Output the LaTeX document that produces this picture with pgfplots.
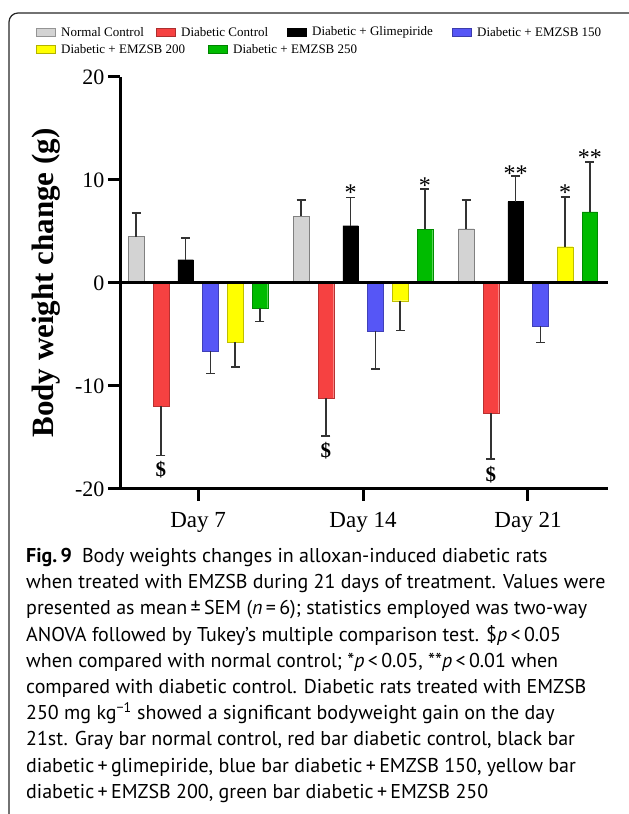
\documentclass[border=0pt]{standalone}
\usepackage{pgfplots}
\pgfplotsset{compat=1.18}
\usepackage{fontspec}
\setmainfont{Liberation Serif}
\newfontfamily\capfont{PT Sans}
\definecolor{cgray}{HTML}{D3D3D3}
\definecolor{cred}{HTML}{F64141}
\definecolor{cblue}{HTML}{5656F6}
\definecolor{cyellow}{HTML}{FFFF00}
\definecolor{cgreen}{HTML}{00BB00}
\definecolor{errc}{HTML}{333333}
\newcommand{\legitem}[4]{%
  \filldraw[fill=#3, draw=#3!70!black, line width=0.5pt] (#1,#2-4) rectangle (#1+19,#2+4);
  \node[anchor=west, inner sep=0pt, font=\fontsize{13}{15}\selectfont] at (#1+25,#2) {#4};
}
\begin{document}
\begin{tikzpicture}[x=1pt,y=1pt]
\path[use as bounding box] (0,0) rectangle (629,814);
\draw[line width=1.2pt, rounded corners=9pt, black!85] (9,-20) -- (9,801) -- (660,801);
% legend
\legitem{36}{782}{cgray}{Normal Control}
\legitem{156}{782}{cred}{Diabetic Control}
\legitem{287}{782}{black}{Diabetic + Glimepiride}
\legitem{452}{782}{cblue}{Diabetic + EMZSB 150}
\legitem{36}{765}{cyellow}{Diabetic + EMZSB 200}
\legitem{208}{765}{cgreen}{Diabetic + EMZSB 250}
\begin{axis}[
  at={(120pt,325pt)}, anchor=south west, scale only axis,
  width=488pt, height=412pt,
  xmin=0.527, xmax=3.485, ymin=-20, ymax=20,
  axis x line=bottom, axis y line=left,
  axis line style={-, line width=3pt, black},
  xtick={1,2,3}, xticklabels={Day 7,Day 14,Day 21},
  ytick={-20,-10,0,10,20}, yticklabels={-20,-10,0,10,20},
  tick align=outside, major tick length=12pt,
  tick style={line width=3pt, black},
  xticklabel style={font=\fontsize{23}{25}\selectfont, yshift=-8pt},
  yticklabel style={font=\fontsize{22}{24}\selectfont},
  every axis y label/.style={at={(axis description cs:-0.1516,0.5)}, rotate=90, anchor=center},
  ylabel={\fontsize{31}{33}\selectfont\bfseries Body weight change (g)},
  clip=false,
]
\addplot[ybar, bar width=0.095, bar shift=0pt, fill=cgray, draw=gray] coordinates {(0.625,4.5) (1.625,6.47) (2.625,5.27)};
\addplot[ybar, bar width=0.095, bar shift=0pt, fill=cred, draw=cred!75!black] coordinates {(0.775,-11.94) (1.775,-11.2) (2.775,-12.65)};
\addplot[ybar, bar width=0.095, bar shift=0pt, fill=black, draw=black] coordinates {(0.925,2.26) (1.925,5.56) (2.925,7.9)};
\addplot[ybar, bar width=0.095, bar shift=0pt, fill=cblue, draw=cblue!75!black] coordinates {(1.075,-6.6) (2.075,-4.66) (3.075,-4.2)};
\addplot[ybar, bar width=0.095, bar shift=0pt, fill=cyellow, draw=cyellow!75!black] coordinates {(1.225,-5.76) (2.225,-1.72) (3.225,3.52)};
\addplot[ybar, bar width=0.095, bar shift=0pt, fill=cgreen, draw=cgreen!75!black] coordinates {(1.375,-2.46) (2.375,5.24) (3.375,6.9)};
% error bars (one-sided)
\addplot[draw=none, mark=none,
  error bars/.cd, y dir=plus, y explicit,
  error bar style={draw=errc, line width=1.4pt},
  error mark=|, error mark options={draw=errc, line width=1.4pt, mark size=4.5pt}]
  table[x=x, y=y, y error=e] {
x y e
0.625 4.5 2.3
1.625 6.47 1.6
2.625 5.27 2.8
0.925 2.26 2.1
1.925 5.56 2.72
2.925 7.9 2.5
3.225 3.52 4.83
2.375 5.24 3.9
3.375 6.9 4.85
};
\addplot[draw=none, mark=none,
  error bars/.cd, y dir=minus, y explicit,
  error bar style={draw=errc, line width=1.4pt},
  error mark=|, error mark options={draw=errc, line width=1.4pt, mark size=4.5pt}]
  table[x=x, y=y, y error=e] {
x y e
0.775 -11.94 4.83
1.775 -11.2 3.65
2.775 -12.65 4.45
1.075 -6.6 2.17
2.075 -4.66 3.7
3.075 -4.2 1.6
1.225 -5.76 2.4
2.225 -1.72 2.9
1.375 -2.46 1.27
};
\draw[line width=3pt, black] (axis cs:0.527,0) -- (axis cs:3.485,0);
% significance marks
\begin{scope}[every node/.style={anchor=base, inner sep=0pt, font=\fontsize{21}{22}\selectfont\bfseries}]
\node at (axis cs:0.775,-18.74) {\$};
\node at (axis cs:1.775,-16.94) {\$};
\node at (axis cs:2.775,-19.24) {\$};
\end{scope}
\begin{scope}[every node/.style={anchor=base, inner sep=0pt, font=\fontsize{24}{26}\selectfont}]
\node at (axis cs:1.925,8.0) {*};
\node at (axis cs:2.375,8.65) {*};
\node at (axis cs:2.925,9.9) {**};
\node at (axis cs:3.225,8.0) {*};
\node at (axis cs:3.375,11.4) {**};
\end{scope}
\end{axis}
% caption
\node[anchor=north west, inner sep=0pt, align=left, font=\capfont\fontsize{20}{26.2}\selectfont] at (26,266) {%
\textbf{Fig.\,9}\enspace Body weights changes in alloxan-induced diabetic rats\\
when treated with EMZSB during 21 days of treatment. Values were\\
presented as mean\,±\,SEM (\textit{n}\,=\,6); statistics employed was two-way\\
ANOVA followed by Tukey’s multiple comparison test. \$\textit{p}\,<\,0.05\\
when compared with normal control; *\textit{p}\,<\,0.05, **\textit{p}\,<\,0.01 when\\
compared with diabetic control. Diabetic rats treated with EMZSB\\
250 mg kg\textsuperscript{−1} showed a significant bodyweight gain on the day\\
21st. Gray bar normal control, red bar diabetic control, black bar\\
diabetic\,+\,glimepiride, blue bar diabetic\,+\,EMZSB 150, yellow bar\\
diabetic\,+\,EMZSB 200, green bar diabetic\,+\,EMZSB 250};
\end{tikzpicture}
\end{document}
